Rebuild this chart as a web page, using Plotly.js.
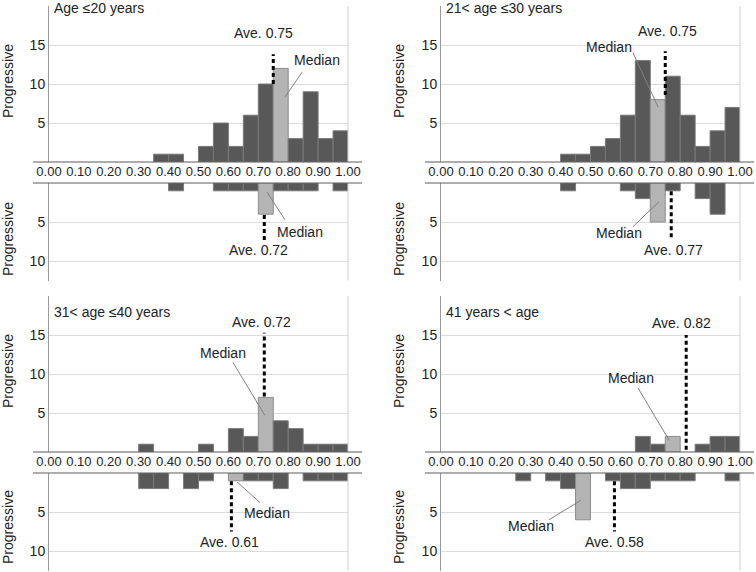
<!DOCTYPE html>
<html>
<head>
<meta charset="utf-8">
<script src="https://cdn.plot.ly/plotly-3.0.1.min.js"></script>
<style>
  html, body { margin: 0; padding: 0; background: #fff; }
  #chart { width: 756px; height: 572px; }
</style>
</head>
<body>
<div id="chart"></div>
<script>
// bins are 0.05 wide, from 0.00 to 1.00
const binMid = [0.025, 0.075, 0.125, 0.175, 0.225, 0.275, 0.325, 0.375, 0.425, 0.475,
                0.525, 0.575, 0.625, 0.675, 0.725, 0.775, 0.825, 0.875, 0.925, 0.975];
const xTicks = [0, 0.1, 0.2, 0.3, 0.4, 0.5, 0.6, 0.7, 0.8, 0.9, 1.0];

const panelTitles = ['Age ≤20 years', '21< age ≤30 years', '31< age ≤40 years', '41 years < age'];
const axisLabel = 'Progressive';

// counts per bin - upper half of each panel
const countsUp1 = [0,0,0,0,0,0,0,1,1,0,2,5,2,6,10,12,3,9,3,4];
const countsUp2 = [0,0,0,0,0,0,0,0,1,1,2,3,6,13,8,11,6,2,4,7];
const countsUp3 = [0,0,0,0,0,0,1,0,0,0,1,0,3,2,7,4,3,1,1,1];
const countsUp4 = [0,0,0,0,0,0,0,0,0,0,0,0,0,2,1,2,0,1,2,2];
// counts per bin - lower half (drawn downwards)
const countsDown1 = [0,0,0,0,0,0,0,0,1,0,0,1,1,1,4,1,1,1,0,1];
const countsDown2 = [0,0,0,0,0,0,0,0,1,0,0,0,1,2,5,1,0,2,4,0];
const countsDown3 = [0,0,0,0,0,0,2,2,0,2,1,0,1,1,1,2,0,1,1,1];
const countsDown4 = [0,0,0,0,0,1,0,1,2,6,0,1,2,2,1,1,1,0,0,1];

const medianBinUp = [15, 14, 14, 15];
const medianBinDown = [14, 14, 12, 9];
const aveUp = [0.75, 0.75, 0.72, 0.82];
const aveDown = [0.72, 0.77, 0.61, 0.58];

const countsUp = [countsUp1, countsUp2, countsUp3, countsUp4];
const countsDown = [countsDown1, countsDown2, countsDown3, countsDown4];

// ---- placement (pixels / data coords for the drawn guides) ----
const W = 756, H = 572;
const px = v => v / W;
const py = v => 1 - v / H;

const colX = [[49, 348], [441, 740]];
const rowY = [{ up: [6, 162], down: [183, 280.5] }, { up: [296, 452], down: [473, 570.5] }];
const titlePos = [[52, 8], [444, 8], [52, 312], [444, 312]];
const labelX = [8, 399];
const labelY = [{ up: 81, down: 239 }, { up: 371, down: 527 }];

const aveUpSpan = [[10, 13.8], [8.6, 14.2], [7.1, 15.3], [0.3, 15]];
const aveDownSpan = [[4.1, 7.6], [1.07, 7.3], [1.07, 7.5], [1.07, 7.5]];
const aveUpText = [[0.716, 16.5], [0.759, 16.8], [0.712, 16.7], [0.803, 16.5]];
const aveDownText = [[0.699, 8.6], [0.779, 8.6], [0.605, 8.8], [0.579, 8.8]];
const medUpText = [[0.896, 13.1], [0.562, 14.7], [0.582, 12.7], [0.635, 9.5]];
const medUpLine = [[0.846, 11.5, 0.789, 8.3], [0.642, 14.0, 0.726, 7.05], [0.615, 11.5, 0.722, 4.7], [0.659, 8.2, 0.763, 1.5]];
const medDownText = [[0.839, 6.3], [0.595, 6.4], [0.729, 5.1], [0.301, 6.8]];
const medDownLine = [[0.789, 4.7, 0.729, 1.15], [0.642, 5.6, 0.729, 2.4], [0.706, 3.8, 0.629, 1.15], [0.361, 6.0, 0.468, 3.5]];

const FONT = 'Liberation Sans, Arial, Helvetica, sans-serif';
const DARK = '#585858', LIGHT = '#b4b4b4';

let traces = [];
let shapes = [];
let annotations = [];
let layout = {
    width: W, height: H,
    margin: { l: 0, r: 0, t: 0, b: 0 },
    paper_bgcolor: '#fff', plot_bgcolor: 'rgba(0,0,0,0)',
    showlegend: false,
    font: { family: FONT, color: '#222', size: 14 },
    bargap: 0
};

for (let p = 0; p < 4; p++) {
    const col = colX[p % 2];
    const row = rowY[Math.floor(p / 2)];
    const lrow = labelY[Math.floor(p / 2)];

    ['up', 'down'].forEach((half, h) => {
        const n = 2 * p + h + 1;
        const xk = n === 1 ? 'xaxis' : 'xaxis' + n;
        const yk = n === 1 ? 'yaxis' : 'yaxis' + n;
        const xid = n === 1 ? 'x' : 'x' + n;
        const yid = n === 1 ? 'y' : 'y' + n;
        const counts = half === 'up' ? countsUp[p] : countsDown[p];
        const med = half === 'up' ? medianBinUp[p] : medianBinDown[p];
        const yDom = row[half];

        traces.push({
            type: 'bar', x: binMid, y: counts.map(v => v || null),
            width: 0.05, xaxis: xid, yaxis: yid,
            marker: {
                color: counts.map((v, i) => i === med ? LIGHT : DARK),
                line: { color: counts.map((v, i) => i === med ? '#8c8c8c' : '#7a7a7a'), width: 1 }
            },
            hoverinfo: 'x+y'
        });

        // average line
        const ave = half === 'up' ? aveUp[p] : aveDown[p];
        const span = half === 'up' ? aveUpSpan[p] : aveDownSpan[p];
        traces.push({
            type: 'scatter', mode: 'lines', x: [ave, ave], y: span,
            xaxis: xid, yaxis: yid,
            line: { color: '#000', width: 3, dash: '4px,3px' },
            hoverinfo: 'skip'
        });

        layout[xk] = {
            domain: [px(col[0]), px(col[1])], range: [0, 1], anchor: yid,
            tickvals: xTicks, tickformat: '.2f', ticks: '',
            showticklabels: half === 'up', showgrid: false, zeroline: false, showline: false,
            tickfont: { size: 13, color: '#222' }, fixedrange: true
        };
        layout[yk] = {
            domain: [py(yDom[1]), py(yDom[0])], anchor: xid,
            range: half === 'up' ? [0, 20] : [12.5, 0],
            tickvals: half === 'up' ? [5, 10, 15] : [5, 10], ticks: '',
            showgrid: true, gridcolor: '#dcdcdc', gridwidth: 1, zeroline: false,
            showline: true, linecolor: '#9a9a9a', linewidth: 1,
            tickfont: { size: 14, color: '#222' }, fixedrange: true
        };

        // right edge line at 1.00
        shapes.push({
            type: 'line', xref: xid + ' domain', yref: yid + ' domain',
            x0: 1, x1: 1, y0: 0, y1: 1, line: { color: '#cfcfcf', width: 1 }
        });
        // baseline, wider than the plot
        const by = half === 'up' ? yDom[1] : yDom[0];
        shapes.push({
            type: 'line', xref: 'paper', yref: 'paper',
            x0: px(col[0] - 16), x1: px(col[1] + 14), y0: py(by), y1: py(by),
            line: { color: '#5a5a5a', width: 1 }
        });

        // axis label
        annotations.push({
            xref: 'paper', yref: 'paper', x: px(labelX[p % 2]), y: py(lrow[half]),
            text: axisLabel, textangle: -90, showarrow: false,
            xanchor: 'center', yanchor: 'middle', font: { size: 14 }
        });

        // Ave. label
        const at = half === 'up' ? aveUpText[p] : aveDownText[p];
        annotations.push({
            xref: xid, yref: yid, x: at[0], y: at[1],
            text: 'Ave. ' + ave.toFixed(2), showarrow: false,
            xanchor: 'center', yanchor: 'middle', font: { size: 14 }
        });

        // Median label + leader line
        const mt = half === 'up' ? medUpText[p] : medDownText[p];
        const ml = half === 'up' ? medUpLine[p] : medDownLine[p];
        annotations.push({
            xref: xid, yref: yid, x: mt[0], y: mt[1],
            text: 'Median', showarrow: false,
            xanchor: 'center', yanchor: 'middle', font: { size: 14 }
        });
        shapes.push({
            type: 'line', xref: xid, yref: yid,
            x0: ml[0], y0: ml[1], x1: ml[2], y1: ml[3],
            line: { color: '#808080', width: 1 }
        });
    });

    // panel title
    annotations.push({
        xref: 'paper', yref: 'paper', x: px(titlePos[p][0]), y: py(titlePos[p][1]),
        text: panelTitles[p], showarrow: false,
        xanchor: 'left', yanchor: 'middle', font: { size: 14 }
    });
}

layout.shapes = shapes;
layout.annotations = annotations;

Plotly.newPlot('chart', traces, layout, { displayModeBar: false, staticPlot: true });
</script>
</body>
</html>
